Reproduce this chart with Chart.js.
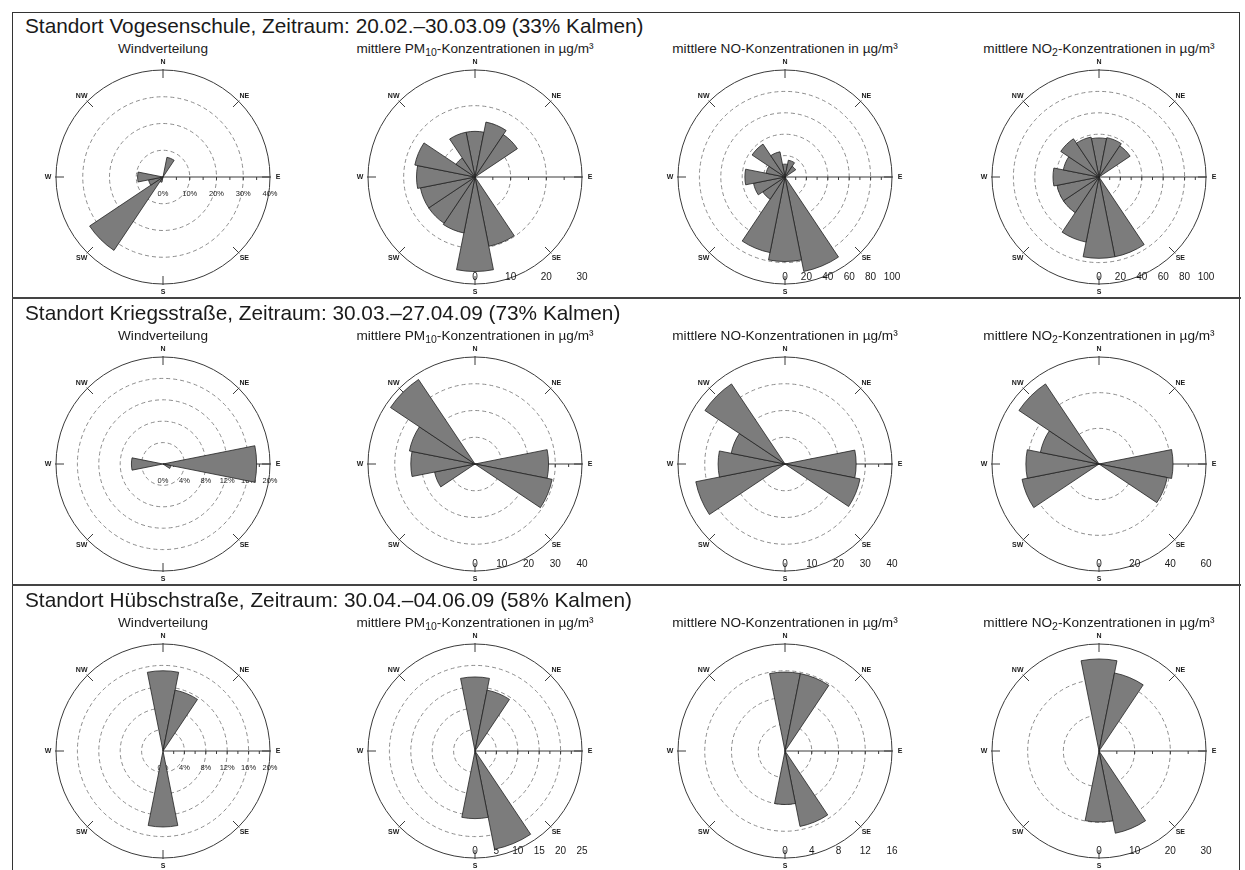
<!DOCTYPE html>
<html>
<head>
<meta charset="utf-8">
<script src="https://cdn.jsdelivr.net/npm/chart.js@4.4.0/dist/chart.umd.min.js"></script>
<style>
  html, body { margin: 0; padding: 0; background: #fff; }
  body { width: 1245px; height: 870px; position: relative; overflow: hidden;
         font-family: Arial, "Liberation Sans", sans-serif; color: #1a1a1a; }
  #frame { position: absolute; left: 12px; top: 12px; width: 1226px; height: 880px;
           border: 1.5px solid #333; }
  .sep { position: absolute; left: 12px; width: 1229px; height: 2px; background: #444; }
  .title { position: absolute; left: 25px; font-size: 20.8px; line-height: 21px; white-space: nowrap; }
  .sub { position: absolute; width: 310px; text-align: center; font-size: 13.6px; line-height: 13px; white-space: nowrap; }
  .sub sub { font-size: 10.5px; vertical-align: -3px; line-height: 0; }
  canvas { position: absolute; }
</style>
</head>
<body>
<div id="frame"></div>
<script>
// 16 Sektoren, beginnend bei Nord, im Uhrzeigersinn
const directions = ['N', 'NNE', 'NE', 'ENE', 'E', 'ESE', 'SE', 'SSE', 'S', 'SSW', 'SW', 'WSW', 'W', 'WNW', 'NW', 'NNW'];

const stationTitles = [
    'Standort Vogesenschule, Zeitraum: 20.02.–30.03.09 (33% Kalmen)',
    'Standort Kriegsstraße, Zeitraum: 30.03.–27.04.09 (73% Kalmen)',
    'Standort Hübschstraße, Zeitraum: 30.04.–04.06.09 (58% Kalmen)'
];
const panelTitles = [
    'Windverteilung',
    'mittlere PM<sub>10</sub>-Konzentrationen in µg/m³',
    'mittlere NO-Konzentrationen in µg/m³',
    'mittlere NO<sub>2</sub>-Konzentrationen in µg/m³'
];

// Vogesenschule
const windVogesen = [0, 7.5, 0, 0, 0, 0, 0, 0, 0, 2, 33, 5.5, 9.5, 0, 0, 0];
const pm10Vogesen = [12.8, 15.7, 14.3, 0, 0, 0, 0, 19.8, 26.5, 16, 15.6, 15.6, 16.4, 17.2, 6.4, 12.8];
const noVogesen = [12, 16, 12, 0, 0, 0, 0, 90, 79, 72, 25, 30, 37.5, 18, 37, 24];
const no2Vogesen = [36.5, 37.5, 35, 0, 0, 0, 0, 76, 76, 62, 40, 40, 43, 34, 43, 38];

// Kriegsstraße
const windKrieg = [0, 0, 0, 0, 17.5, 1.5, 0, 0, 0, 0, 0, 0, 5.9, 0, 0, 0];
const pm10Krieg = [0, 0, 0, 0, 27.5, 29.4, 0, 0, 0, 0, 0, 15.4, 24, 25, 38, 0];
const noKrieg = [0, 0, 0, 0, 26.6, 28.6, 0, 0, 0, 0, 0, 34, 25, 20.5, 36, 0];
const no2Krieg = [0, 0, 0, 0, 41.5, 39, 0, 0, 0, 0, 0, 44, 41, 33.5, 54, 0];

// Hübschstraße
const windHuebsch = [15, 11.6, 0, 0, 0, 0, 0, 0, 14.2, 0, 0, 0, 0, 0, 0, 0];
const pm10Huebsch = [17.3, 14.5, 0, 0, 0, 0, 0, 23.4, 15.8, 0, 0, 0, 0, 0, 0, 0];
const noHuebsch = [11.8, 11.8, 0, 0, 0, 0, 0, 11.5, 8, 0, 0, 0, 0, 0, 0, 0];
const no2Huebsch = [25.8, 22.3, 0, 0, 0, 0, 0, 23.5, 19.9, 0, 0, 0, 0, 0, 0, 0];

// Achsenbeschriftungen (Ringe), letzter Wert = Außenkreis
const ticksWindVogesen = [0, 10, 20, 30, 40];
const ticksPm10Vogesen = [0, 10, 20, 30];
const ticksNoVogesen = [0, 20, 40, 60, 80, 100];
const ticksNo2Vogesen = [0, 20, 40, 60, 80, 100];
const ticksWindKrieg = [0, 4, 8, 12, 16, 20];
const ticksPm10Krieg = [0, 10, 20, 30, 40];
const ticksNoKrieg = [0, 10, 20, 30, 40];
const ticksNo2Krieg = [0, 20, 40, 60];
const ticksWindHuebsch = [0, 4, 8, 12, 16, 20];
const ticksPm10Huebsch = [0, 5, 10, 15, 20, 25];
const ticksNoHuebsch = [0, 4, 8, 12, 16];
const ticksNo2Huebsch = [0, 10, 20, 30];

const rows = [
    [[windVogesen, ticksWindVogesen], [pm10Vogesen, ticksPm10Vogesen], [noVogesen, ticksNoVogesen], [no2Vogesen, ticksNo2Vogesen]],
    [[windKrieg, ticksWindKrieg], [pm10Krieg, ticksPm10Krieg], [noKrieg, ticksNoKrieg], [no2Krieg, ticksNo2Krieg]],
    [[windHuebsch, ticksWindHuebsch], [pm10Huebsch, ticksPm10Huebsch], [noHuebsch, ticksNoHuebsch], [no2Huebsch, ticksNo2Huebsch]]
];

const colX = [163, 475, 785, 1099];
const rowY = [177, 464, 751];
const compass = ['N', 'NE', 'E', 'SE', 'S', 'SW', 'W', 'NW'];

// Außenkreis, Himmelsrichtungen, Ostachse und Skalenbeschriftung
const roseDecor = {
    id: 'roseDecor',
    beforeDatasetsDraw(chart, args, opts) {
        const scale = chart.scales.r;
        const ctx = chart.ctx;
        const cx = scale.xCenter;
        const cy = scale.yCenter;
        const ticks = opts.ticks;
        const max = ticks[ticks.length - 1];
        const R = scale.getDistanceFromCenterForValue(max);

        ctx.save();
        ctx.strokeStyle = '#3a3a3a';
        ctx.lineWidth = 1;
        ctx.beginPath();
        ctx.arc(cx, cy, R, 0, Math.PI * 2);
        ctx.stroke();

        ctx.fillStyle = '#1a1a1a';
        ctx.font = 'bold 7px Arial, "Liberation Sans", sans-serif';
        ctx.textAlign = 'center';
        ctx.textBaseline = 'middle';
        compass.forEach((lab, i) => {
            const a = i * Math.PI / 4 - Math.PI / 2;
            const c = Math.cos(a), s = Math.sin(a);
            ctx.beginPath();
            ctx.moveTo(cx + c * (R - 8), cy + s * (R - 8));
            ctx.lineTo(cx + c * (R + 1), cy + s * (R + 1));
            ctx.stroke();
            ctx.fillText(lab, cx + c * (R + 8), cy + s * (R + 8));
        });

        // Ostachse mit Teilstrichen
        ctx.beginPath();
        ctx.moveTo(cx, cy);
        ctx.lineTo(cx + R, cy);
        ctx.stroke();
        const minor = (ticks[1] - ticks[0]) / 2;
        for (let k = 1; k * minor < max; k++) {
            const x = cx + scale.getDistanceFromCenterForValue(k * minor);
            ctx.beginPath();
            ctx.moveTo(x, cy);
            ctx.lineTo(x, cy + 3);
            ctx.stroke();
        }

        if (opts.percent) {
            ctx.font = '7.5px Arial, "Liberation Sans", sans-serif';
            ticks.forEach(v => {
                ctx.fillText(v + '%', cx + scale.getDistanceFromCenterForValue(v), cy + 17);
            });
        } else {
            ctx.font = '10px Arial, "Liberation Sans", sans-serif';
            ticks.forEach(v => {
                ctx.fillText(String(v), cx + scale.getDistanceFromCenterForValue(v), cy + 100);
            });
        }
        ctx.restore();
    }
};

function addDiv(cls, html, left, top) {
    const d = document.createElement('div');
    d.className = cls;
    d.innerHTML = html;
    d.style.left = left + 'px';
    d.style.top = top + 'px';
    document.body.appendChild(d);
    return d;
}

rows.forEach((row, ri) => {
    const cy = rowY[ri];
    addDiv('title', stationTitles[ri], 25, cy - 162);
    if (ri > 0) {
        addDiv('sep', '', 12, cy - 167);
    }
    row.forEach(([values, ticks], ci) => {
        const cx = colX[ci];
        addDiv('sub', panelTitles[ci], cx - 155, cy - 135);

        const canvas = document.createElement('canvas');
        canvas.width = 310;
        canvas.height = 250;
        canvas.style.left = (cx - 155) + 'px';
        canvas.style.top = (cy - 125) + 'px';
        document.body.appendChild(canvas);

        const max = ticks[ticks.length - 1];
        new Chart(canvas, {
            type: 'polarArea',
            data: {
                labels: directions,
                datasets: [{
                    data: values,
                    backgroundColor: '#7c7c7c',
                    borderColor: '#222',
                    borderWidth: 0.8
                }]
            },
            options: {
                responsive: false,
                animation: false,
                layout: { padding: { left: 48, right: 48, top: 18, bottom: 18 } },
                plugins: {
                    legend: { display: false },
                    tooltip: { enabled: false },
                    roseDecor: { ticks: ticks, percent: ci === 0 }
                },
                scales: {
                    r: {
                        min: 0,
                        max: max,
                        startAngle: -11.25,
                        ticks: { display: false, stepSize: ticks[1] - ticks[0] },
                        grid: {
                            circular: true,
                            lineWidth: 1,
                            color: c => (c.tick && c.tick.value >= max) ? 'rgba(0,0,0,0)' : '#8c8c8c'
                        },
                        border: { dash: [4, 3] },
                        angleLines: { display: false },
                        pointLabels: { display: false }
                    }
                }
            },
            plugins: [roseDecor]
        });
    });
});
</script>
</body>
</html>
